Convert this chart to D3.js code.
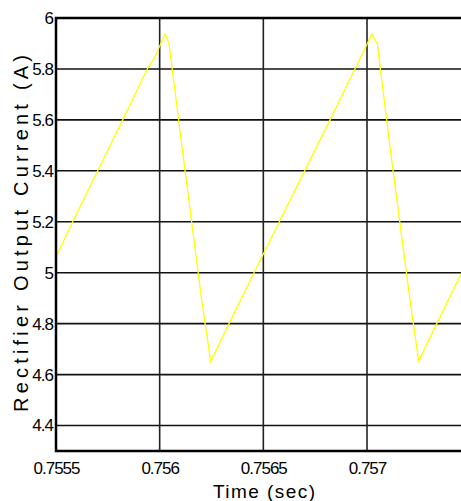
<!DOCTYPE html>
<html>
<head>
<meta charset="utf-8">
<script src="https://cdn.jsdelivr.net/npm/d3@7"></script>
<style>
	body { margin: 0; background: #fff; }
	text { font-family: 'Liberation Sans', Arial, sans-serif; fill: #000; }
</style>
</head>
<body>
<div id="chart"></div>
<script>
// time (s) and rectifier current (A)
var times = [
	0.7555, 0.7555805, 0.7557011, 0.7558217, 0.7559404, 0.7559775, 0.7560257, 0.756045,
	0.756114, 0.7562027, 0.7562461, 0.7563344, 0.756455, 0.7567251, 0.7568216, 0.7569421,
	0.7569986, 0.7570227, 0.7570497, 0.7571191, 0.7572074, 0.7572494, 0.7573362, 0.7574534
];
var current = [
	5.063, 5.2, 5.4, 5.6, 5.8, 5.848, 5.937, 5.9,
	5.455, 4.893, 4.651, 4.8, 5.0, 5.442, 5.6, 5.8,
	5.894, 5.937, 5.898, 5.442, 4.893, 4.653, 4.8, 4.995
];
var xTicks = [0.7555, 0.756, 0.7565, 0.757];
var xTickLabels = ['0.7555', '0.756', '0.7565', '0.757'];
var yTicks = [4.4, 4.6, 4.8, 5, 5.2, 5.4, 5.6, 5.8, 6];
var yTickLabels = ['4.4', '4.6', '4.8', '5', '5.2', '5.4', '5.6', '5.8', '6'];

var width = 461;
var height = 501;
var plotLeft = 56, plotTop = 18, plotBottom = 451;

var xScale = d3.scaleLinear()
	.domain([0.7555, 0.7574534])
	.range([plotLeft, width]);

var yScale = d3.scaleLinear()
	.domain([4.3, 6])
	.range([plotBottom, plotTop]);

var svg = d3.select('#chart')
	.append('svg')
	.attr('width', width)
	.attr('height', height);

svg.append('rect')
	.attr('width', width)
	.attr('height', height)
	.attr('fill', '#fff');

/* grid */
var grid = svg.append('g').attr('class', 'grid');
grid.selectAll('.hgrid')
	.data(yTicks)
	.enter()
	.append('line')
	.attr('x1', plotLeft)
	.attr('x2', width)
	.attr('y1', d => yScale(d))
	.attr('y2', d => yScale(d))
	.attr('stroke', '#111')
	.attr('stroke-width', 1.6);

grid.selectAll('.vgrid')
	.data(xTicks)
	.enter()
	.append('line')
	.attr('x1', d => xScale(d))
	.attr('x2', d => xScale(d))
	.attr('y1', plotTop)
	.attr('y2', plotBottom)
	.attr('stroke', '#222')
	.attr('stroke-width', 1.6);

/* trace */
var line = d3.line()
	.x((d, i) => xScale(times[i]))
	.y(d => yScale(d));

svg.append('path')
	.datum(current)
	.attr('d', line)
	.attr('fill', 'none')
	.attr('stroke', '#ffff00')
	.attr('stroke-width', 1.3);

/* axes */
var xAxis = d3.axisBottom(xScale)
	.tickValues(xTicks)
	.tickFormat((d, i) => xTickLabels[i])
	.tickSize(0)
	.tickPadding(11);

var yAxis = d3.axisLeft(yScale)
	.tickValues(yTicks)
	.tickFormat((d, i) => yTickLabels[i])
	.tickSize(0)
	.tickPadding(3);

var gx = svg.append('g')
	.attr('transform', `translate(0, ${plotBottom})`)
	.call(xAxis);

var gy = svg.append('g')
	.attr('transform', `translate(${plotLeft}, 0)`)
	.call(yAxis);

[gx, gy].forEach(function(g) {
	g.select('.domain').remove();
	g.selectAll('text')
		.attr('fill', '#000')
		.style('font-size', '17px')
		.style('letter-spacing', '-1px')
		.style('font-family', "'Liberation Sans', Arial, sans-serif");
});

/* frame: top, left, bottom */
svg.append('path')
	.attr('d', `M${width},${plotTop}H${plotLeft}V${plotBottom}H${width}`)
	.attr('fill', 'none')
	.attr('stroke', '#000')
	.attr('stroke-width', 2.5);

/* labels */
svg.append('text')
	.attr('x', 264)
	.attr('y', 498)
	.attr('text-anchor', 'middle')
	.attr('textLength', 102)
	.attr('lengthAdjust', 'spacing')
	.style('font-size', '19px')
	.text('Time (sec)');

svg.append('text')
	.attr('transform', 'translate(28, 233.5) rotate(-90)')
	.attr('text-anchor', 'middle')
	.attr('textLength', 357)
	.attr('lengthAdjust', 'spacing')
	.style('font-size', '20px')
	.text('Rectifier Output Current (A)');
</script>
</body>
</html>
